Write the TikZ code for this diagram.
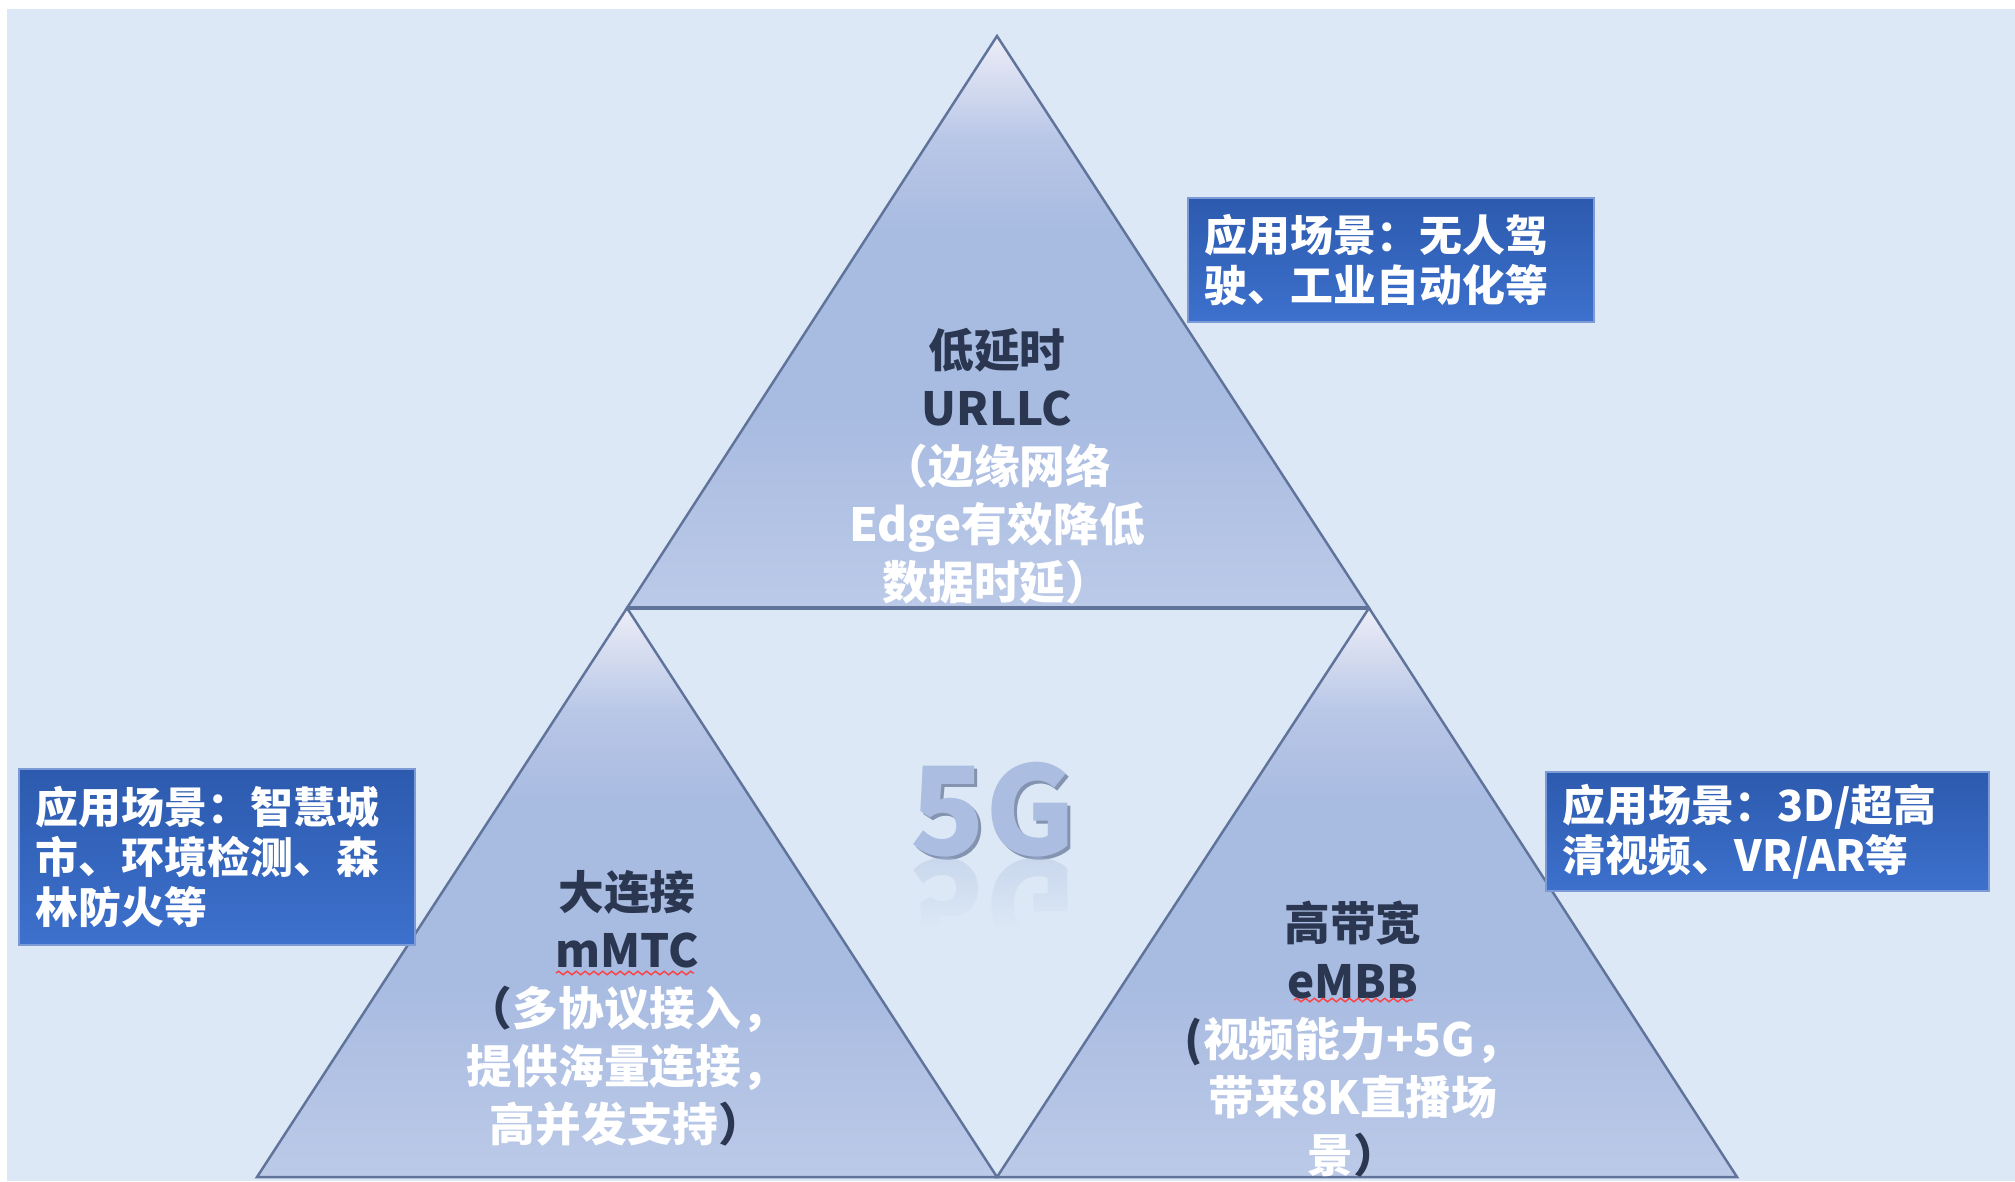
\documentclass[tikz,border=0pt]{standalone}
\usepackage{fontspec}
\setmainfont{Noto Sans CJK SC}
\usetikzlibrary{fadings,decorations.pathmorphing}

\definecolor{bgblue}{HTML}{DCE8F5}
\definecolor{edgeblue}{HTML}{60739A}
\definecolor{triatop}{HTML}{ECEDF7}
\definecolor{triaupper}{HTML}{B9C7E7}
\definecolor{triamid}{HTML}{A8BBE1}
\definecolor{triabot}{HTML}{BCCAE8}
\definecolor{darktext}{HTML}{2B3650}
\definecolor{boxtop}{HTML}{2C5AAE}
\definecolor{boxbot}{HTML}{3D71CD}
\definecolor{boxedge}{HTML}{7C9BD6}
\definecolor{gfill}{HTML}{ABBDE1}
\definecolor{gshadow}{HTML}{8493B0}

\pgfdeclareverticalshading{triashade}{100bp}{color(0bp)=(triabot);
  color(25bp)=(triabot); color(42bp)=(triamid); color(58bp)=(triamid);
  color(66bp)=(triaupper); color(75bp)=(triatop); color(100bp)=(triatop)}

\begin{document}
\begin{tikzpicture}[x=0.01cm,y=-0.01cm,
  tria/.style={draw=edgeblue,line width=0.7pt,shading=triashade},
  tritext/.style={align=center,text=white,
    font=\bfseries\fontsize{13}{16.5}\selectfont},
  scenebox/.style={anchor=north west,draw=boxedge,line width=0.5pt,
    top color=boxtop,bottom color=boxbot,text=white,align=left,
    inner xsep=0.17cm,font=\bfseries\fontsize{12.2}{14.2}\selectfont},
  bigfive/.style={font=\bfseries\fontsize{35}{35}\selectfont},
  spellmark/.style={draw=red!75!white,line width=0.4pt,decorate,
    decoration={snake,amplitude=0.5pt,segment length=2.5pt}}]
  \useasboundingbox (0,0) rectangle (2015,1181);
  \fill[white] (0,0) rectangle (2015,1181);
  \fill[bgblue] (7,9) rectangle (2015,1181);
  % corners of the three triangles
  \coordinate (topapex) at (997,36);
  \coordinate (midleft) at (627,608);
  \coordinate (midright) at (1369,608);
  \coordinate (botleft) at (257,1177);
  \coordinate (botmid) at (997,1177);
  \coordinate (botright) at (1737,1177);
  \shade[tria] (topapex) -- (midright) -- (midleft) -- cycle;
  \shade[tria] (midleft) -- (botmid) -- (botleft) -- cycle;
  \shade[tria] (midright) -- (botright) -- (botmid) -- cycle;
  \draw[edgeblue,line width=1.1pt] (midleft) -- (midright);

  % texts inside the triangles
  \node[tritext] (urllc) at (997,466)
    {{\color{darktext}低延时}\\{\color{darktext}URLLC}\\（边缘网络\\
     Edge有效降低\\数据时延）};
  \node[tritext] (mmtc) at (627,1008)
    {{\color{darktext}大连接}\\{\color{darktext}mMTC}\\
     {\color{darktext}（}多协议接入，\\提供海量连接，\\
     高并发支持{\color{darktext}）}};
  \node[tritext] (embb) at (1353,1039)
    {{\color{darktext}高带宽}\\{\color{darktext}eMBB}\\
     {\color{darktext}(}视频能力+5G，\\带来8K直播场\\
     景{\color{darktext}）}};
  \draw[spellmark] (556,973) -- (694,973);
  \draw[spellmark] (1294,1000) -- (1413,1000);

  % 5G in the middle, with its mirror image
  \node[bigfive,text=gshadow] (fiveshadow) at (996,813) {5G};
  \node[bigfive,text=gfill] (fiveg) at (993,810) {5G};
  \node[bigfive,text=gfill,opacity=0.35] (fivemirror) at (993,905)
    {\scalebox{1}[-1]{5G}};
  \fill[bgblue,path fading=north] (880,858) rectangle (1110,928);
  \fill[bgblue] (880,927) rectangle (1110,965);

  % application boxes
  \node[scenebox,minimum width=4.06cm,minimum height=1.24cm,
    text width=3.72cm] (urllcuse) at (1187,197)
    {应用场景：无人驾\\驶、工业自动化等};
  \node[scenebox,minimum width=3.96cm,minimum height=1.76cm,
    text width=3.62cm] (mmtcuse) at (18,768)
    {应用场景：智慧城\\市、环境检测、森\\林防火等};
  \node[scenebox,minimum width=4.43cm,minimum height=1.19cm,
    text width=4.09cm] (embbuse) at (1545,771)
    {应用场景：3D/超高\\清视频、VR/AR等};
\end{tikzpicture}
\end{document}
